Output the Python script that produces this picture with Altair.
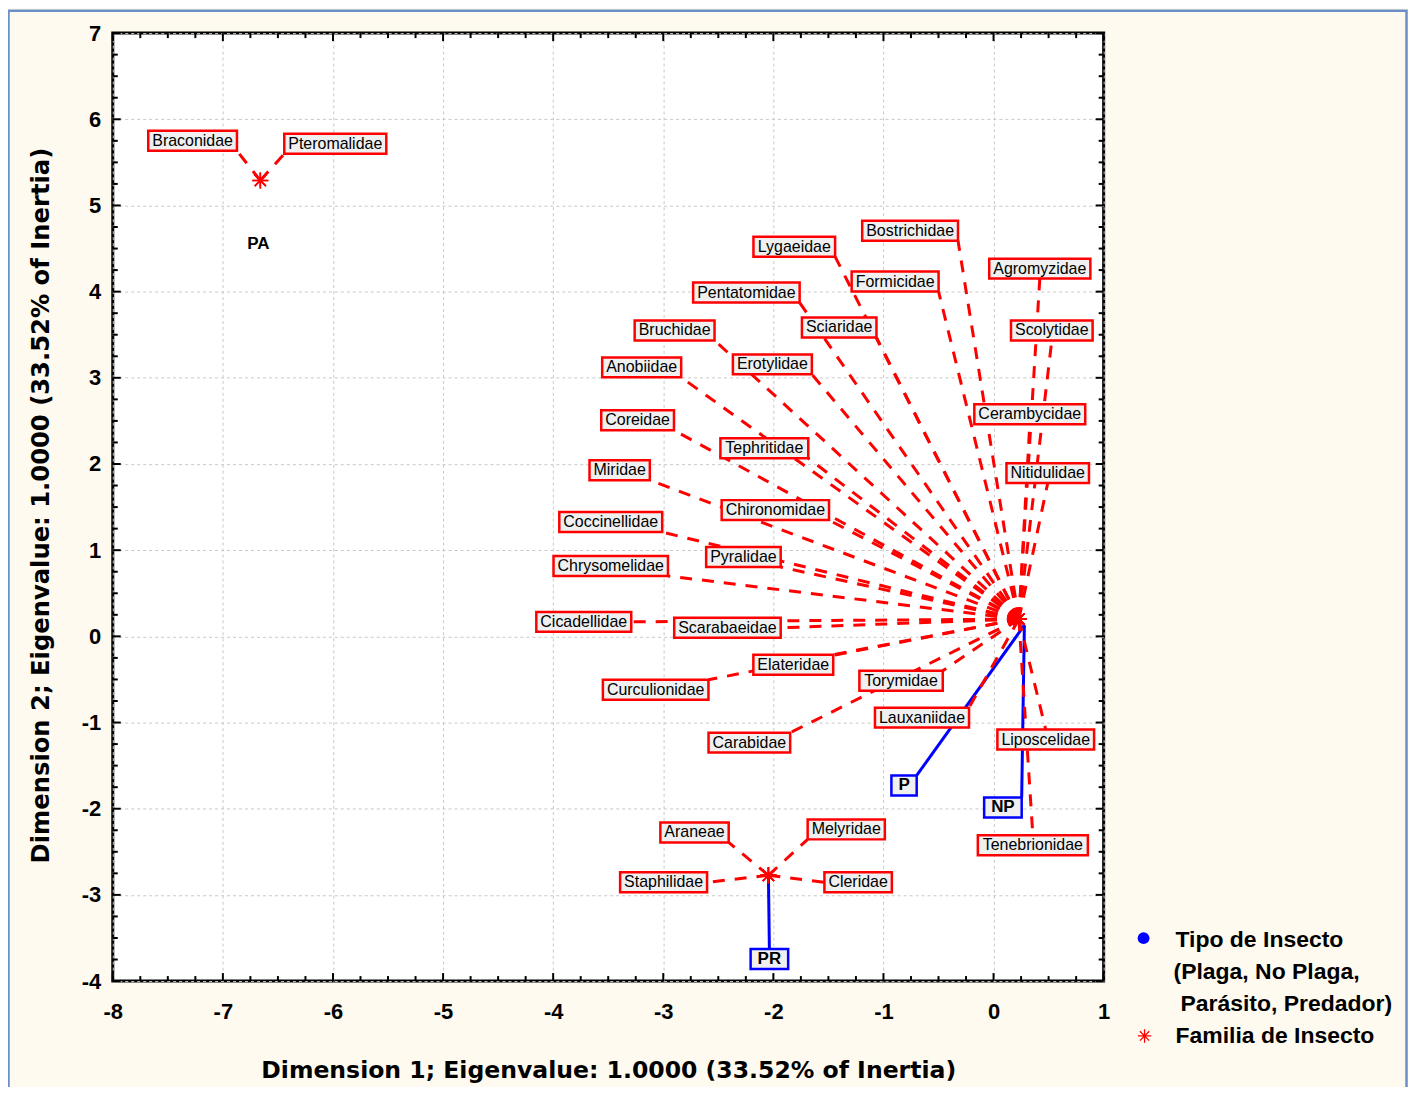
import altair as alt
import pandas as pd

# ---------------- data ----------------
families = ["Braconidae", "Pteromalidae", "Bostrichidae", "Lygaeidae", "Agromyzidae",
            "Formicidae", "Pentatomidae", "Sciaridae", "Scolytidae", "Bruchidae",
            "Anobiidae", "Erotylidae", "Cerambycidae", "Coreidae", "Tephritidae",
            "Nitidulidae", "Miridae", "Chironomidae", "Coccinellidae", "Pyralidae",
            "Chrysomelidae", "Cicadellidae", "Scarabaeidae", "Elateridae", "Curculionidae",
            "Torymidae", "Lauxaniidae", "Carabidae", "Liposcelidae", "Tenebrionidae",
            "Araneae", "Melyridae", "Staphilidae", "Cleridae"]
# coordinates of each family point
fam_x = [-6.66, -6.66] + [0.23] * 28 + [-2.045] * 4
fam_y = [5.29, 5.29] + [0.20] * 28 + [-2.773] * 4
# coordinates of each family label
lab_x = [-7.275, -5.979, -0.758, -1.810, 0.420, -0.894, -2.245, -1.402, 0.529, -2.897,
         -3.196, -2.009, 0.329, -3.233, -2.082, 0.492, -3.396, -1.982, -3.477, -2.272,
         -3.477, -3.722, -2.417, -1.819, -3.069, -0.840, -0.650, -2.218, 0.474, 0.357,
         -2.716, -1.338, -2.997, -1.230]
lab_y = [5.750, 5.715, 4.707, 4.522, 4.267, 4.117, 3.989, 3.584, 3.550, 3.550,
         3.121, 3.156, 2.577, 2.507, 2.183, 1.894, 1.928, 1.465, 1.326, 0.921,
         0.817, 0.168, 0.099, -0.329, -0.619, -0.515, -0.943, -1.233, -1.198, -2.425,
         -2.275, -2.240, -2.854, -2.854]

types = ["PA", "P", "NP", "PR"]
type_x = [-6.66, 0.28, 0.28, -2.045]
type_y = [5.29, 0.13, 0.13, -2.773]
type_lx = [-6.677, -0.813, 0.085, -2.036]
type_ly = [4.557, -1.730, -1.985, -3.745]

x_ticks = [-8, -7, -6, -5, -4, -3, -2, -1, 0, 1]
y_ticks = [-4, -3, -2, -1, 0, 1, 2, 3, 4, 5, 6, 7]
x_title = "Dimension 1; Eigenvalue: 1.0000 (33.52% of Inertia)"
y_title = "Dimension 2; Eigenvalue: 1.0000 (33.52% of Inertia)"
legend_lines = ["Tipo de Insecto", "(Plaga, No Plaga,", "Parásito, Predador)", "Familia de Insecto"]

# ---------------- layout helpers ----------------
W, H = 993, 950
XD, YD = [-8, 1], [-4, 7]
KX = W / (XD[1] - XD[0])
KY = H / (YD[1] - YD[0])

REG = dict(zip("abcdefghijklmnopqrstuvwxyz",
               [556, 556, 500, 556, 556, 278, 556, 556, 222, 222, 500, 222, 833,
                556, 556, 556, 556, 333, 500, 278, 556, 500, 722, 500, 500, 500]))
REG.update(dict(zip("ABCDEFGHIJKLMNOPQRSTUVWXYZ",
                    [667, 667, 722, 722, 667, 611, 778, 722, 278, 500, 667, 556, 833,
                     722, 778, 667, 778, 722, 667, 611, 722, 667, 944, 667, 667, 611])))
BOLD = {"P": 667, "N": 722, "R": 722, "A": 722}


def text_w(s, size, bold=False):
    tab = BOLD if bold else REG
    return sum(tab.get(c, 556) for c in s) * size / 1000.0


def anchor(px, py, x1, x2, y1, y2):
    ax = x1 if px < x1 else (x2 if px > x2 else (x1 + x2) / 2)
    ay = y1 if py < y1 else (y2 if py > y2 else (y1 + y2) / 2)
    return ax, ay


LAB_FS = 16
TYP_FS = 17
rows = []
for n, px, py, lx, ly in zip(families, fam_x, fam_y, lab_x, lab_y):
    hw = (text_w(n, LAB_FS) + 8) / 2 / KX
    hh = 10 / KY
    x1, x2, y1, y2 = lx - hw, lx + hw, ly - hh, ly + hh
    ax, ay = anchor(px, py, x1, x2, y1, y2)
    rows.append(dict(name=n, px=px, py=py, lx=lx, ly=ly, x1=x1, x2=x2, y1=y1, y2=y2, ax=ax, ay=ay))
fam_df = pd.DataFrame(rows)

trows = []
for n, px, py, lx, ly in zip(types, type_x, type_y, type_lx, type_ly):
    hw = (text_w(n, TYP_FS, True) + 14) / 2 / KX
    hh = 10 / KY
    x1, x2, y1, y2 = lx - hw, lx + hw, ly - hh, ly + hh
    ax, ay = anchor(px, py, x1, x2, y1, y2)
    trows.append(dict(name=n, px=px, py=py, lx=lx, ly=ly, x1=x1, x2=x2, y1=y1, y2=y2, ax=ax, ay=ay,
                      boxed=(n != "PA")))
type_df = pd.DataFrame(trows)
type_box_df = type_df[type_df["boxed"]]

minor_x = [a + k * 0.25 for a in x_ticks[:-1] for k in (1, 2, 3)]
minor_y = [a + k * 0.25 for a in y_ticks[:-1] for k in (1, 2, 3)]

# ---------------- scales / axes ----------------
xs = alt.Scale(domain=XD, nice=False, zero=False)
ys = alt.Scale(domain=YD, nice=False, zero=False)

x_axis = alt.Axis(values=x_ticks, title=x_title, grid=True, gridDash=[3, 3], gridColor="#c8c8c8",
                  gridWidth=1, domain=False, ticks=False, labelFont="Liberation Sans",
                  labelFontSize=22, labelFontWeight="bold", labelColor="black", labelPadding=21,
                  labelFlush=False, labelOverlap=False, labelExpr="'' + datum.value",
                  titleFont="DejaVu Sans", titleFontSize=23.6, titleFontWeight="bold",
                  titleColor="black", titleX=496.5, titleY=97, titleBaseline="alphabetic",
                  titleAlign="center")
y_axis = alt.Axis(values=y_ticks, title=y_title, grid=True, gridDash=[3, 3], gridColor="#c8c8c8",
                  gridWidth=1, domain=False, ticks=False, labelFont="Liberation Sans",
                  labelFontSize=22, labelFontWeight="bold", labelColor="black", labelPadding=12,
                  labelFlush=False, labelOverlap=False, labelExpr="'' + datum.value",
                  titleFont="DejaVu Sans", titleFontSize=24.3, titleFontWeight="bold",
                  titleColor="black", titleX=-71, titleY=473, titleAngle=270,
                  titleBaseline="middle", titleAlign="center")


def X(f):
    return alt.X(f, type="quantitative", scale=xs, axis=x_axis)


def Y(f):
    return alt.Y(f, type="quantitative", scale=ys, axis=y_axis)


ASTER = "M-1,0L1,0M0,-1L0,1M-0.7,-0.7L0.7,0.7M-0.7,0.7L0.7,-0.7"

# ---------------- layers ----------------
blue_lines = alt.Chart(type_box_df).mark_rule(color="#0000FF", strokeWidth=3).encode(
    x=X("px"), y=Y("py"), x2="ax", y2="ay")

red_lines = alt.Chart(fam_df).mark_rule(color="#FF0000", strokeWidth=3, strokeDash=[12, 10]).encode(
    x=X("px"), y=Y("py"), x2="ax", y2="ay")

stars = alt.Chart(fam_df).mark_point(shape=ASTER, size=260, color="#FF0000", filled=False,
                                     strokeWidth=1.6, opacity=1).encode(x=X("px"), y=Y("py"))

fam_boxes = alt.Chart(fam_df).mark_rect(fill="#F0F0F0", stroke="#FF0000", strokeWidth=2.5).encode(
    x=X("x1"), x2="x2", y=Y("y1"), y2="y2")
fam_text = alt.Chart(fam_df).mark_text(font="Liberation Sans", fontSize=LAB_FS, color="black",
                                       align="center", baseline="middle").encode(
    x=X("lx"), y=Y("ly"), text="name:N")

type_boxes = alt.Chart(type_box_df).mark_rect(fill="#F0F0F0", stroke="#0000FF", strokeWidth=2.5).encode(
    x=X("x1"), x2="x2", y=Y("y1"), y2="y2")
type_text = alt.Chart(type_df).mark_text(font="Liberation Sans", fontSize=TYP_FS, fontWeight="bold",
                                         color="black", align="center", baseline="middle").encode(
    x=X("lx"), y=Y("ly"), text="name:N")

# inward ticks on all four sides
mx = pd.DataFrame({"v": x_ticks})
my = pd.DataFrame({"v": y_ticks})
nx = pd.DataFrame({"v": minor_x})
ny = pd.DataFrame({"v": minor_y})
tk = dict(color="black", strokeWidth=2)
ticks = [
    alt.Chart(mx).mark_rule(**tk).encode(x=X("v"), y=alt.value(0), y2=alt.value(8)),
    alt.Chart(mx).mark_rule(**tk).encode(x=X("v"), y=alt.value(H), y2=alt.value(H - 8)),
    alt.Chart(nx).mark_rule(**tk).encode(x=X("v"), y=alt.value(0), y2=alt.value(5)),
    alt.Chart(nx).mark_rule(**tk).encode(x=X("v"), y=alt.value(H), y2=alt.value(H - 5)),
    alt.Chart(my).mark_rule(**tk).encode(y=Y("v"), x=alt.value(0), x2=alt.value(8)),
    alt.Chart(my).mark_rule(**tk).encode(y=Y("v"), x=alt.value(W), x2=alt.value(W - 8)),
    alt.Chart(ny).mark_rule(**tk).encode(y=Y("v"), x=alt.value(0), x2=alt.value(5)),
    alt.Chart(ny).mark_rule(**tk).encode(y=Y("v"), x=alt.value(W), x2=alt.value(W - 5)),
]

# legend (drawn at the right of the plot)
one = pd.DataFrame({"k": [0]})
leg_dot = alt.Chart(one).mark_point(shape="circle", size=140, color="#0000FF", filled=True,
                                    opacity=1).encode(x=alt.value(1033), y=alt.value(907))
leg_star = alt.Chart(one).mark_point(shape=ASTER, size=180, color="#FF0000", filled=False,
                                     strokeWidth=1.3, opacity=1).encode(x=alt.value(1034), y=alt.value(1005))
leg_pos = [(1065, 916), (1063, 948), (1070, 980), (1065, 1012)]
leg_text = [
    alt.Chart(one).mark_text(font="Liberation Sans", fontSize=23, fontWeight="bold", color="black",
                             align="left", baseline="alphabetic").encode(
        x=alt.value(p[0]), y=alt.value(p[1]), text=alt.value(t))
    for t, p in zip(legend_lines, leg_pos)
]

border = alt.Chart(one).mark_rect(filled=False, stroke="#6A8FC8", strokeWidth=2.5).encode(
    x=alt.value(-104.5), x2=alt.value(1296.5), y=alt.value(-22.5), y2=alt.value(1070))

chart = alt.layer(
    blue_lines, red_lines, stars, fam_boxes, fam_text, type_boxes, type_text,
    *ticks, leg_dot, leg_star, *leg_text, border
).properties(
    width=W, height=H,
    autosize=alt.AutoSizeParams(type="none"),
    padding={"left": 105, "top": 24, "right": 305, "bottom": 105},
    background="#FEFAF0",
).configure_view(stroke="black", strokeWidth=3, fill="white")

chart.save("out.html", embed_options={"renderer": "svg", "actions": False})
